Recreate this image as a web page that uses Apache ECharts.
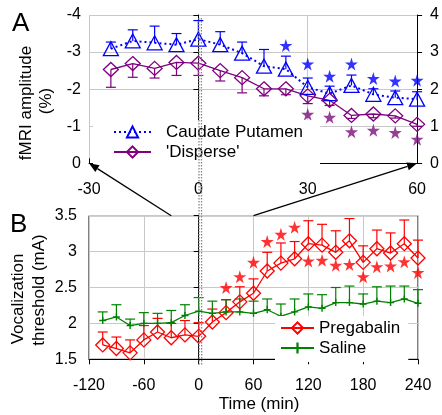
<!DOCTYPE html>
<html><head><meta charset="utf-8">
<script src="https://cdn.jsdelivr.net/npm/echarts@6/dist/echarts.min.js"></script>
<style>html,body{margin:0;padding:0;background:#fff}#c{width:442px;height:415px}</style>
</head><body><div id="c"></div>
<script>
// ---- Panel A data (fMRI amplitude magnitude, %) ----
const timesA = [-24,-18,-12,-6,0,6,12,18,24,30,36,42,48,54,60];
const caudate = [3.09,3.3,3.25,3.2,3.35,3.2,2.97,2.62,2.54,2.05,1.88,2.1,1.86,1.77,1.73];
const caudateErr = [0.18,0.3,0.45,0.3,0.5,0.35,0.3,0.45,0.35,0.25,0.2,0.28,0.15,0.18,0.2];
const disperse = [2.53,2.69,2.56,2.72,2.7,2.5,2.31,2.01,2.01,1.82,1.70,1.29,1.33,1.28,1.05];
const disperseErr = [0.48,0.37,0.26,0.35,0.33,0.28,0.41,0.19,0.16,0.21,0.14,0.08,0.1,0.06,0.05];
const caudateStarTimes = [24,30,36,42,48,54,60];
const caudateStars = [3.18,2.68,2.35,2.68,2.29,2.22,2.24];
const disperseStarTimes = [30,36,42,48,54,60];
const disperseStars = [1.32,1.24,0.85,0.89,0.83,0.65];
const ticksA = [-30,0,30,60];

// ---- Panel B data (vocalization threshold, mA) ----
const timesB = [-105,-90,-75,-60,-45,-30,-15,0,15,30,45,60,75,90,105,120,135,150,165,180,195,210,225,240];
const pregabalin = [1.70,1.65,1.59,1.77,1.88,1.80,1.84,1.82,2.02,2.15,2.30,2.42,2.73,2.84,2.90,3.11,3.09,2.99,3.15,2.85,3.04,2.98,3.11,2.91];
const pregabalinErr = [0.18,0.16,0.18,0.2,0.19,0.2,0.2,0.19,0.18,0.18,0.21,0.2,0.26,0.28,0.24,0.32,0.29,0.3,0.31,0.23,0.26,0.28,0.33,0.25];
const saline = [2.04,2.09,1.97,2.0,2.0,2.01,2.11,2.17,2.14,2.16,2.16,2.14,2.19,2.10,2.16,2.23,2.21,2.29,2.29,2.27,2.31,2.29,2.34,2.28];
const salineErr = [0.12,0.17,0.09,0.15,0.14,0.17,0.15,0.19,0.17,0.17,0.18,0.17,0.15,0.17,0.18,0.18,0.19,0.21,0.23,0.14,0.2,0.23,0.18,0.19];
const pregStarTimes = [30,45,60,75,90,105,120,135,150,165,180,195,210,225,240];
const pregStars = [2.50,2.65,2.85,3.14,3.24,3.34,2.87,2.88,2.81,2.82,2.65,2.79,2.80,2.86,2.71];

const BLUE = '#0000FF', PURPLE = '#800080', RED = '#FF0000', GREEN = '#008000';
const FONT = "'Liberation Sans', Arial, sans-serif";
const STAR = 'path://M50,0 L61,35 L98,35 L68,57 L79,91 L50,70 L21,91 L32,57 L2,35 L39,35 Z';
const PLUS = 'path://M4,0H6V4H10V6H6V10H4V6H0V4H4Z';

const zip = (xs, ys) => xs.map((x, i) => [x, ys[i]]);
const zip3 = (xs, ys, es) => xs.map((x, i) => [x, ys[i], es[i]]);

function errBars(name, xi, yi, data, color, dir, hw) {
  return {
    name: name, type: 'custom', xAxisIndex: xi, yAxisIndex: yi, z: 1,
    data: data,
    renderItem: function (params, api) {
      const x = api.value(0), y = api.value(1), e = api.value(2);
      const p0 = api.coord([x, y]);
      const p1 = api.coord([x, y + dir * e]);
      const st = { stroke: color, lineWidth: 1.2 };
      return { type: 'group', children: [
        { type: 'line', shape: { x1: p0[0], y1: p0[1], x2: p1[0], y2: p1[1] }, style: st },
        { type: 'line', shape: { x1: p1[0] - hw, y1: p1[1], x2: p1[0] + hw, y2: p1[1] }, style: st }
      ]};
    }
  };
}

const axisBase = {
  axisLine: { lineStyle: { color: '#000', width: 1 } },
  axisTick: { lineStyle: { color: '#000' }, length: 5 },
  axisLabel: { color: '#000', fontSize: 16, fontFamily: FONT },
  splitLine: { show: true, lineStyle: { color: '#c8c8c8', width: 1 } }
};

const chart = echarts.init(document.getElementById('c'), null, { renderer: 'canvas' });
const option = {
  animation: false,
  backgroundColor: '#fff',
  textStyle: { fontFamily: FONT },
  grid: [
    { left: 89, top: 15, width: 329, height: 148.3 },
    { left: 89, top: 215.7, width: 329, height: 143.6, show: true, borderColor: '#000', borderWidth: 1, backgroundColor: 'transparent' }
  ],
  xAxis: [
    Object.assign({}, axisBase, { gridIndex: 0, type: 'value', min: ticksA[0], max: ticksA[ticksA.length - 1], interval: 30,
      axisTick: { inside: true, length: 5, lineStyle: { color: '#000' } },
      axisLabel: { color: '#000', fontSize: 16, fontFamily: FONT, margin: 18 } }),
    Object.assign({}, axisBase, { gridIndex: 1, type: 'value', min: -120, max: 240, interval: 60,
      axisLabel: { color: '#000', fontSize: 16, fontFamily: FONT, margin: 18 } })
  ],
  yAxis: [
    Object.assign({}, axisBase, { gridIndex: 0, type: 'value', min: 0, max: 4, interval: 1, position: 'left',
      axisLabel: { color: '#000', fontSize: 16, fontFamily: FONT, margin: 8, formatter: v => v === 0 ? '0' : '-' + v } }),
    Object.assign({}, axisBase, { gridIndex: 0, type: 'value', min: 0, max: 4, interval: 1, position: 'right',
      splitLine: { show: false },
      axisLabel: { color: '#000', fontSize: 16, fontFamily: FONT, margin: 13 } }),
    Object.assign({}, axisBase, { gridIndex: 1, type: 'value', min: 1.5, max: 3.5, interval: 0.5,
      axisLabel: { color: '#000', fontSize: 16, fontFamily: FONT, margin: 12 } })
  ],
  legend: [
    { data: ['Caudate Putamen', "'Disperse'"], orient: 'vertical', left: 93, top: 120,
      padding: [2, 17, 5, 20], itemGap: 0, itemWidth: 37, itemHeight: 14, backgroundColor: '#fff',
      textStyle: { fontSize: 17, color: '#000', fontFamily: FONT, lineHeight: 20, padding: [0, 0, 0, 10] } },
    { data: ['Pregabalin', 'Saline'], orient: 'vertical', left: 275, top: 316,
      padding: [2, 8, 4, 5], itemGap: 0, itemWidth: 33, itemHeight: 14, backgroundColor: '#fff',
      textStyle: { fontSize: 17, color: '#000', fontFamily: FONT, lineHeight: 20 } }
  ],
  series: [
    errBars('errC', 0, 0, zip3(timesA, caudate, caudateErr), BLUE, 1, 5),
    errBars('errD', 0, 0, zip3(timesA, disperse, disperseErr), PURPLE, -1, 5),
    { name: 'Caudate Putamen', type: 'line', xAxisIndex: 0, yAxisIndex: 0, z: 3,
      data: zip(timesA, caudate), symbol: 'triangle', symbolSize: [15, 14],
      lineStyle: { color: BLUE, width: 2, type: [2, 3] },
      itemStyle: { color: 'rgba(255,255,255,0)', borderColor: BLUE, borderWidth: 1.3 } },
    { name: "'Disperse'", type: 'line', xAxisIndex: 0, yAxisIndex: 0, z: 3,
      data: zip(timesA, disperse), symbol: 'diamond', symbolSize: [15, 14],
      lineStyle: { color: PURPLE, width: 1.3 },
      itemStyle: { color: 'rgba(255,255,255,0)', borderColor: PURPLE, borderWidth: 1.3 } },
    { name: 'starC', type: 'scatter', xAxisIndex: 0, yAxisIndex: 0, z: 3,
      data: zip(caudateStarTimes, caudateStars), symbol: STAR, symbolSize: 13, itemStyle: { color: BLUE } },
    { name: 'starD', type: 'scatter', xAxisIndex: 0, yAxisIndex: 0, z: 3,
      data: zip(disperseStarTimes, disperseStars), symbol: STAR, symbolSize: 13, itemStyle: { color: '#7a0f7a' } },

    errBars('errP', 1, 2, zip3(timesB, pregabalin, pregabalinErr), RED, 1, 5),
    errBars('errS', 1, 2, zip3(timesB, saline, salineErr), GREEN, 1, 5),
    { name: 'Pregabalin', type: 'line', xAxisIndex: 1, yAxisIndex: 2, z: 3,
      data: zip(timesB, pregabalin), symbol: 'diamond', symbolSize: [14, 14],
      lineStyle: { color: RED, width: 1.3 },
      itemStyle: { color: 'rgba(255,255,255,0)', borderColor: RED, borderWidth: 1.3 } },
    { name: 'Saline', type: 'line', xAxisIndex: 1, yAxisIndex: 2, z: 3,
      data: zip(timesB, saline), symbol: PLUS, symbolSize: 7,
      lineStyle: { color: GREEN, width: 1.3 },
      itemStyle: { color: GREEN } },
    { name: 'starP', type: 'scatter', xAxisIndex: 1, yAxisIndex: 2, z: 3,
      data: zip(pregStarTimes, pregStars), symbol: STAR, symbolSize: 13, itemStyle: { color: RED } }
  ]
};
chart.setOption(option);

// ---- annotations computed from the axes ----
const cA = (p) => chart.convertToPixel({ xAxisIndex: 0, yAxisIndex: 0 }, p);
const cB = (p) => chart.convertToPixel({ xAxisIndex: 1, yAxisIndex: 2 }, p);
const g = [];
function arrow(from, to) {
  const dx = to[0] - from[0], dy = to[1] - from[1];
  const L = Math.sqrt(dx * dx + dy * dy), ux = dx / L, uy = dy / L;
  const bx = to[0] - ux * 10, by = to[1] - uy * 10;
  g.push({ type: 'line', z: 50, shape: { x1: from[0], y1: from[1], x2: bx, y2: by }, style: { stroke: '#000', lineWidth: 1.3 } });
  g.push({ type: 'polygon', z: 50, shape: { points: [to, [bx - uy * 4, by + ux * 4], [bx + uy * 4, by - ux * 4]] }, style: { fill: '#000' } });
}
arrow(cB([ticksA[0], 3.5]), cA([ticksA[0], 0]));
arrow(cB([ticksA[3], 3.5]), cA([ticksA[3], 0]));

// dotted zero line through both panels
const zTop = cA([0, 4]), zBot = cB([0, 1.5]);
[0.5, 3].forEach(off => {
  g.push({ type: 'line', z: 60, shape: { x1: zTop[0] + off, y1: zTop[1] + 3, x2: zBot[0] + off, y2: zBot[1] + 6 },
    style: { stroke: '#888', lineWidth: 1.3, lineDash: [1.5, 1.5] } });
});

// panel letters and axis titles
g.push({ type: 'text', z: 70, style: { text: 'A', x: 12, y: 24, font: "26px " + FONT, fill: '#000', textVerticalAlign: 'middle' } });
g.push({ type: 'text', z: 70, style: { text: 'B', x: 10, y: 225, font: "26px " + FONT, fill: '#000', textVerticalAlign: 'middle' } });
function vtext(t, x, y) {
  g.push({ type: 'text', z: 70, x: x, y: y, rotation: Math.PI / 2,
    style: { text: t, x: 0, y: 0, font: "17px " + FONT, fill: '#000', textAlign: 'center', textVerticalAlign: 'middle' } });
}
vtext('fMRI amplitude', 26, 103);
vtext('(%)', 46, 101);
vtext('Vocalization', 18, 299);
vtext('threshold (mA)', 39, 290);
g.push({ type: 'text', z: 70, style: { text: 'Time (min)', x: 259, y: 404, font: "17px " + FONT, fill: '#000', textAlign: 'center', textVerticalAlign: 'middle' } });

chart.setOption({ graphic: g });
</script>
</body></html>
